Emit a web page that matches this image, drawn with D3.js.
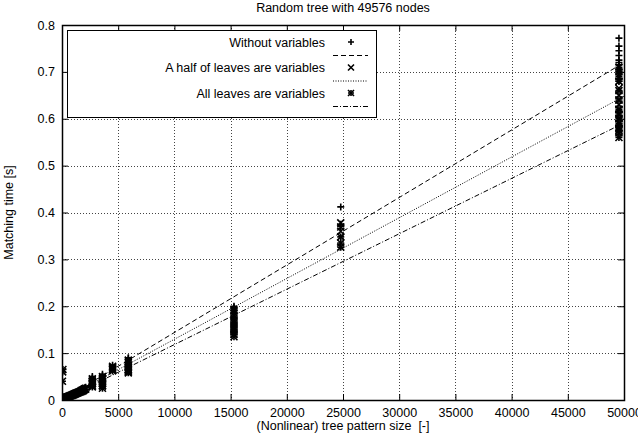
<!DOCTYPE html>
<html><head><meta charset="utf-8">
<script src="https://cdn.jsdelivr.net/npm/d3@7"></script>
<style>body{margin:0;background:#fff}svg{display:block;font-family:"Liberation Sans",Arial,sans-serif}text{white-space:pre}</style>
</head><body><svg id="c" width="638" height="434"></svg>
<script>
const title = "Random tree with 49576 nodes";
const xLabel = "(Nonlinear) tree pattern size  [-]";
const yLabel = "Matching time [s]";
const xTicks = [0,5000,10000,15000,20000,25000,30000,35000,40000,45000,50000];
const yTicks = [0,0.1,0.2,0.3,0.4,0.5,0.6,0.7,0.8];
const seriesNames = ["Without variables","A half of leaves are variables","All leaves are variables"];

const sizes = [
 40,60,80,100,150,200,300,400,500,600,700,800,900,1000,1100,1200,1300,1400,1500,1600,1700,1800,1900,2000,2100,
 2700,2700,2700,2700,
 3600,3600,3600,3600,3600,
 4500,4500,4500,
 5900,5900,5900,5900,5900,
 15300,15300,15300,15300,15300,15300,
 24800,24800,24800,
 49550,49550,49550,49550,49550,49550,49550,49550,49550,49550,49550,49550
];
const withoutVars = [
 0.002,0.003,0.003,0.004,0.004,0.005,0.006,0.007,0.008,0.009,0.010,0.011,0.012,0.013,0.014,0.016,0.017,0.018,0.019,0.020,0.022,0.023,0.024,0.026,0.027,
 0.040,0.045,0.050,0.047,
 0.045,0.050,0.055,0.040,0.052,
 0.070,0.074,0.068,
 0.085,0.090,0.080,0.088,0.075,
 0.200,0.195,0.190,0.185,0.198,0.192,
 0.412,0.375,0.370,
 0.772,0.755,0.745,0.735,0.725,0.715,0.710,0.705,0.700,0.720,0.690,0.680
];
const halfVars = [
 0.002,0.002,0.003,0.003,0.004,0.004,0.005,0.006,0.007,0.008,0.009,0.010,0.011,0.012,0.013,0.014,0.015,0.016,0.017,0.018,0.020,0.021,0.022,0.024,0.025,
 0.035,0.040,0.045,0.038,
 0.040,0.045,0.035,0.050,0.030,
 0.068,0.072,0.065,
 0.070,0.080,0.085,0.065,0.075,
 0.190,0.180,0.175,0.170,0.160,0.185,
 0.378,0.369,0.360,
 0.710,0.690,0.680,0.665,0.650,0.640,0.630,0.620,0.610,0.600,0.590,0.580
];
const allVars = [
 0.040,0.060,0.065,0.003,0.003,0.004,0.004,0.005,0.006,0.007,0.008,0.009,0.010,0.011,0.012,0.013,0.014,0.015,0.016,0.017,0.018,0.019,0.020,0.022,0.023,
 0.030,0.035,0.040,0.028,
 0.030,0.035,0.040,0.025,0.045,
 0.065,0.070,0.062,
 0.060,0.065,0.070,0.058,0.062,
 0.140,0.145,0.150,0.155,0.135,0.165,
 0.348,0.326,0.335,
 0.700,0.680,0.660,0.640,0.620,0.600,0.590,0.580,0.570,0.560,0.610,0.575
];
// linear fits: value at x=0 and x=50000
const fitX = [0, 50000];
const fitWithout = [0.0, 0.72];
const fitHalf = [0.0, 0.648];
const fitAll = [0.0, 0.591];

const svg = d3.select("#c");
const m = {l:62, r:624, t:25, b:400};
const x = d3.scaleLinear().domain([0,50000]).range([m.l,m.r]);
const y = d3.scaleLinear().domain([0,0.8]).range([m.b,m.t]);
const fs = "12.5px";

// grid
const grid = svg.append("g").attr("stroke","#444").attr("stroke-width",1).attr("stroke-dasharray","1,2");
xTicks.slice(1,-1).forEach(t=>grid.append("line").attr("x1",Math.round(x(t))+0.5).attr("x2",Math.round(x(t))+0.5).attr("y1",m.t).attr("y2",m.b));
yTicks.slice(1,-1).forEach(t=>grid.append("line").attr("y1",Math.round(y(t))+0.5).attr("y2",Math.round(y(t))+0.5).attr("x1",m.l).attr("x2",m.r));

// axes
const xa = svg.append("g").attr("transform",`translate(0,${m.b})`).call(d3.axisBottom(x).tickValues(xTicks).tickFormat(d3.format("d")).tickSizeInner(-6).tickSizeOuter(0).tickPadding(8));
const xt = svg.append("g").attr("transform",`translate(0,${m.t})`).call(d3.axisTop(x).tickValues(xTicks).tickFormat("").tickSizeInner(-6).tickSizeOuter(0));
const ya = svg.append("g").attr("transform",`translate(${m.l},0)`).call(d3.axisLeft(y).tickValues(yTicks).tickFormat(d=>d===0?"0":d3.format(".1f")(d)).tickSizeInner(-6).tickSizeOuter(0).tickPadding(7));
const yr = svg.append("g").attr("transform",`translate(${m.r},0)`).call(d3.axisRight(y).tickValues(yTicks).tickFormat("").tickSizeInner(-6).tickSizeOuter(0));
[xa,xt,ya,yr].forEach(g=>{g.select(".domain").remove();g.selectAll("line").attr("stroke","#000");g.selectAll("text").attr("font-size",fs).attr("font-family","Liberation Sans, Arial, sans-serif").attr("fill","#000");});
svg.append("rect").attr("x",m.l+0.5).attr("y",m.t+0.5).attr("width",m.r-m.l).attr("height",m.b-m.t).attr("fill","none").attr("stroke","#000").attr("stroke-width",1.5);

// titles
svg.append("text").attr("x",(m.l+m.r)/2).attr("y",12).attr("text-anchor","middle").attr("font-size",fs).text(title);
svg.append("text").attr("x",(m.l+m.r)/2).attr("y",430).attr("text-anchor","middle").attr("font-size",fs).text(xLabel);
svg.append("text").attr("transform",`translate(13,${(m.t+m.b)/2}) rotate(-90)`).attr("text-anchor","middle").attr("font-size",fs).text(yLabel);

// fit lines
svg.append("clipPath").attr("id","pc").append("rect").attr("x",m.l).attr("y",m.t).attr("width",m.r-m.l).attr("height",m.b-m.t);
const dashes = ["5,3","1,1.5","5,2,1,2"];
const fits = [fitWithout, fitHalf, fitAll];
const lineGen = d3.line().x(d=>x(d[0])).y(d=>y(d[1]));
fits.forEach((f,i)=>{
  svg.append("path").attr("clip-path","url(#pc)").attr("d",lineGen(fitX.map((xx,j)=>[xx,f[j]]))).attr("fill","none").attr("stroke","#000").attr("stroke-width",1).attr("stroke-dasharray",dashes[i]);
});

// markers
const sw = 1.6;
function plus(g,cx,cy,s){g.append("path").attr("d",`M${cx-s},${cy}H${cx+s}M${cx},${cy-s}V${cy+s}`).attr("stroke","#000").attr("stroke-width",sw).attr("fill","none");}
function cross(g,cx,cy,s){g.append("path").attr("d",`M${cx-s},${cy-s}L${cx+s},${cy+s}M${cx-s},${cy+s}L${cx+s},${cy-s}`).attr("stroke","#000").attr("stroke-width",sw).attr("fill","none");}
function star(g,cx,cy,s){plus(g,cx,cy,s);cross(g,cx,cy,s);}
const markFns = [plus, cross, star];
const series = [withoutVars, halfVars, allVars];
const pts = svg.append("g").attr("clip-path","url(#pc)");
series.forEach((vals,i)=>{
  vals.forEach((v,j)=>markFns[i](pts, x(sizes[j]), y(v), 3.5));
});

// legend
const lg = svg.append("g");
lg.append("rect").attr("x",67.5).attr("y",30.5).attr("width",309).attr("height",87).attr("fill","#fff").attr("stroke","#000").attr("stroke-width",1);
seriesNames.forEach((n,i)=>{
  const ry = 42 + i*25.5;
  lg.append("text").attr("x",325).attr("y",ry+4.5).attr("text-anchor","end").attr("font-size",fs).text(n);
  markFns[i](lg, 351, ry, 3);
  lg.append("line").attr("x1",333).attr("x2",368).attr("y1",ry+13.5).attr("y2",ry+13.5).attr("stroke","#000").attr("stroke-width",1).attr("stroke-dasharray",dashes[i]);
});
</script></body></html>
